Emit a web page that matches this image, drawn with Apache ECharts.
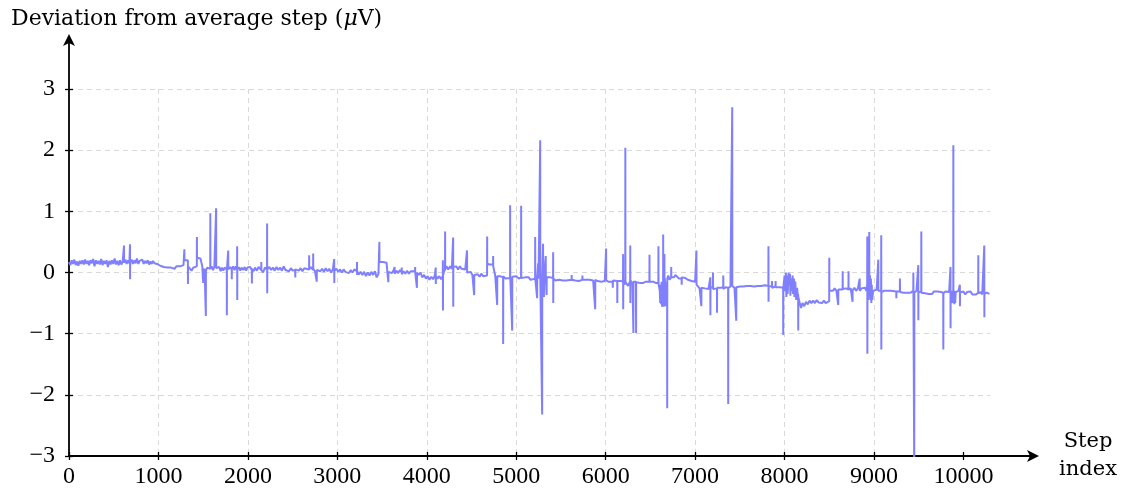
<!DOCTYPE html>
<html>
<head>
<meta charset="utf-8">
<script src="https://cdn.jsdelivr.net/npm/echarts@6/dist/echarts.min.js"></script>
<style>
html,body{margin:0;padding:0;background:#fff;}
#chart{width:1127px;height:490px;}
</style>
</head>
<body>
<div id="chart"></div>
<script>
// ---- data: [step index, deviation (µV)] ----
const seg0to2000 = [[0,0.17],[15,0.12],[30,0.2],[45,0.14],[60,0.21],[75,0.12],[90,0.18],[105,0.11],[120,0.19],[135,0.14],[150,0.2],[165,0.13],[180,0.21],[195,0.14],[210,0.19],[225,0.12],[240,0.2],[255,0.15],[270,0.22],[285,0.1],[300,0.2],[315,0.14],[330,0.19],[345,0.13],[360,0.22],[375,0.12],[390,0.19],[405,0.14],[420,0.2],[435,0.09],[450,0.19],[465,0.13],[480,0.2],[495,0.14],[510,0.23],[525,0.13],[540,0.19],[555,0.12],[570,0.2],[585,0.13],[600,0.18],[614,0.15],[615,0.44],[616,0.16],[630,0.21],[645,0.14],[660,0.2],[675,0.15],[681,0.17],[682,0.46],[683,-0.11],[684,0.17],[700,0.21],[715,0.14],[730,0.2],[745,0.15],[760,0.23],[775,0.14],[790,0.19],[805,0.16],[820,0.21],[835,0.14],[850,0.19],[865,0.15],[880,0.2],[895,0.13],[910,0.18],[925,0.14],[940,0.19],[955,0.15],[970,0.17],[985,0.14],[1000,0.15],[1020,0.11],[1040,0.13],[1060,0.09],[1080,0.12],[1100,0.08],[1120,0.11],[1140,0.08],[1160,0.1],[1180,0.06],[1200,0.1],[1220,0.07],[1240,0.1],[1260,0.08],[1280,0.12],[1289,0.1],[1290,0.38],[1291,0.2],[1310,0.22],[1329,0.2],[1330,-0.19],[1331,0.1],[1350,0.08],[1370,0.03],[1390,0.08],[1410,0.05],[1429,0.1],[1430,0.58],[1431,0.24],[1450,0.22],[1470,0.23],[1490,0.1],[1499,0.08],[1500,-0.17],[1501,0.02],[1515,0.06],[1529,0.03],[1530,-0.71],[1531,0.03],[1545,0.08],[1560,0.05],[1579,0.06],[1580,0.97],[1581,0.06],[1595,0.1],[1610,0.04],[1625,0.09],[1644,0.08],[1645,1.05],[1646,0.07],[1665,0.04],[1680,0.09],[1695,0.02],[1710,0.08],[1725,0.03],[1740,0.08],[1764,0.05],[1765,-0.7],[1766,0.06],[1779,0.05],[1780,0.36],[1781,0.05],[1800,0.09],[1819,0.05],[1820,-0.11],[1821,0.06],[1835,0.1],[1850,0.04],[1865,0.1],[1879,0.05],[1880,0.43],[1881,-0.45],[1882,0.05],[1900,0.09],[1915,0.03],[1930,0.08],[1950,0.04],[1965,0.09],[1980,0.03]];
const seg2000to4000 = [[1995,0.08],[2010,0.05],[2025,0.09],[2044,0.04],[2045,-0.18],[2046,0.06],[2065,0.02],[2080,0.08],[2100,0.03],[2120,0.09],[2149,0.04],[2150,0.17],[2151,0.04],[2170,0.0],[2190,0.08],[2214,0.05],[2215,0.8],[2216,-0.34],[2217,0.05],[2240,0.09],[2260,0.04],[2280,0.08],[2300,0.03],[2320,0.09],[2340,0.04],[2360,0.08],[2380,0.03],[2400,0.1],[2420,0.04],[2440,0.07],[2460,0.02],[2480,0.07],[2500,0.03],[2529,0.04],[2530,-0.08],[2531,0.05],[2550,0.08],[2570,0.03],[2590,0.07],[2610,0.02],[2630,0.07],[2650,0.04],[2684,0.05],[2685,0.28],[2686,0.05],[2705,0.09],[2729,0.04],[2730,0.31],[2731,0.06],[2750,0.02],[2769,0.05],[2770,-0.15],[2771,0.04],[2790,0.07],[2810,0.02],[2830,0.06],[2850,0.01],[2870,0.07],[2890,0.02],[2910,0.06],[2930,0.0],[2950,0.05],[2964,0.03],[2965,0.22],[2966,-0.17],[2967,0.03],[2990,0.06],[3010,0.01],[3030,0.05],[3050,0.0],[3070,0.05],[3090,0.01],[3110,0.04],[3130,-0.01],[3150,0.04],[3170,0.0],[3190,0.05],[3219,0.02],[3220,0.17],[3221,-0.04],[3222,0.02],[3240,-0.03],[3260,0.01],[3280,-0.04],[3300,0.01],[3320,-0.06],[3340,0.0],[3360,-0.05],[3380,0.01],[3400,-0.04],[3420,0.02],[3440,-0.08],[3460,-0.02],[3469,0.0],[3470,0.5],[3471,0.17],[3490,0.2],[3510,0.17],[3530,0.2],[3550,0.16],[3569,0.15],[3570,-0.16],[3571,0.01],[3590,0.04],[3610,-0.01],[3630,0.04],[3639,0.02],[3640,0.09],[3641,-0.02],[3660,0.03],[3680,-0.01],[3700,0.04],[3719,0.0],[3720,0.08],[3721,-0.03],[3740,0.02],[3760,-0.02],[3780,0.03],[3800,-0.02],[3820,0.02],[3840,-0.01],[3869,0.02],[3870,0.09],[3871,0.0],[3889,0.0],[3890,-0.25],[3891,0.0],[3910,-0.04],[3930,0.0],[3950,-0.08],[3970,-0.04],[3990,-0.1]];
const seg4000to6000 = [[4010,-0.06],[4030,-0.12],[4050,-0.07],[4070,-0.11],[4090,-0.05],[4099,-0.06],[4100,0.08],[4101,-0.19],[4102,-0.06],[4120,-0.1],[4140,-0.06],[4160,-0.11],[4179,-0.06],[4180,0.2],[4181,-0.62],[4182,-0.05],[4190,0.0],[4204,0.05],[4205,0.67],[4206,0.05],[4220,0.1],[4240,0.05],[4260,0.1],[4280,0.06],[4294,0.08],[4295,0.57],[4296,-0.56],[4297,0.09],[4310,0.06],[4330,0.1],[4350,0.05],[4370,0.1],[4390,0.06],[4410,0.09],[4430,0.05],[4449,0.06],[4450,0.36],[4451,0.0],[4470,-0.03],[4490,0.01],[4510,-0.04],[4529,-0.03],[4530,-0.37],[4531,-0.04],[4550,-0.07],[4570,-0.03],[4590,-0.07],[4610,-0.02],[4630,-0.06],[4650,-0.03],[4674,-0.05],[4675,0.59],[4676,0.15],[4700,0.13],[4720,0.16],[4741,0.13],[4742,0.27],[4743,0.1],[4765,-0.05],[4786,-0.06],[4787,-0.53],[4788,-0.06],[4800,-0.09],[4820,-0.06],[4853,-0.08],[4854,-1.17],[4855,-0.06],[4880,-0.1],[4900,-0.07],[4931,-0.09],[4932,1.1],[4933,-0.07],[4945,-0.08],[4954,-0.07],[4955,-0.95],[4956,-0.07],[4975,-0.09],[5000,-0.06],[5030,-0.1],[5054,-0.08],[5055,1.09],[5056,-0.09],[5075,-0.11],[5100,-0.08],[5120,-0.11],[5140,-0.08],[5160,-0.12],[5180,-0.09],[5211,-0.1],[5212,0.58],[5213,-0.1],[5225,-0.08],[5233,-0.1],[5234,-0.42],[5235,-0.08],[5245,0.15],[5250,-0.1],[5267,-0.08],[5268,2.16],[5269,-0.08],[5289,-0.1],[5290,-2.32],[5291,-0.1],[5300,0.47],[5301,-0.05],[5310,-0.4],[5311,-0.08],[5329,-0.08],[5330,0.27],[5331,-0.1],[5339,-0.1],[5340,-0.37],[5341,-0.08],[5360,-0.11],[5380,-0.08],[5400,-0.1],[5412,-0.09],[5413,0.33],[5414,-0.5],[5415,-0.1],[5440,-0.13],[5460,-0.1],[5480,-0.12],[5500,-0.1],[5520,-0.13],[5540,-0.11],[5560,-0.13],[5580,-0.11],[5619,-0.12],[5620,-0.04],[5621,-0.12],[5640,-0.11],[5660,-0.13],[5680,-0.11],[5700,-0.14],[5739,-0.12],[5740,-0.05],[5741,-0.12],[5760,-0.14],[5780,-0.12],[5800,-0.13],[5820,-0.12],[5840,-0.14],[5860,-0.13],[5882,-0.14],[5883,-0.6],[5884,-0.12],[5910,-0.14],[5930,-0.12],[5950,-0.15],[5970,-0.12],[5990,-0.14]];
const seg6000to8000 = [[6004,-0.13],[6005,0.39],[6006,-0.13],[6030,-0.15],[6050,-0.13],[6079,-0.15],[6080,-0.25],[6081,-0.13],[6100,-0.16],[6129,-0.14],[6130,-0.5],[6131,-0.14],[6150,-0.16],[6170,-0.14],[6194,-0.15],[6195,0.3],[6196,-0.6],[6197,-0.12],[6210,-0.2],[6219,-0.14],[6220,2.04],[6221,-0.15],[6240,-0.12],[6250,-0.22],[6274,-0.14],[6275,0.44],[6276,-0.5],[6277,-0.13],[6300,-0.18],[6309,-0.15],[6310,-0.99],[6311,-0.15],[6339,-0.15],[6340,-0.99],[6341,-0.16],[6360,-0.14],[6380,-0.17],[6400,-0.14],[6420,-0.17],[6450,-0.15],[6489,-0.15],[6490,0.29],[6491,-0.15],[6510,-0.17],[6530,-0.15],[6560,-0.17],[6589,-0.17],[6590,0.43],[6591,-0.18],[6605,-0.3],[6610,-0.5],[6615,-0.2],[6620,-0.52],[6625,-0.15],[6630,-0.56],[6635,-0.2],[6640,-0.5],[6642,-0.25],[6643,0.62],[6644,-0.3],[6648,-0.56],[6652,-0.1],[6656,-0.5],[6657,0.3],[6658,-0.4],[6662,-0.1],[6667,-0.55],[6672,-0.15],[6677,-0.5],[6681,-0.2],[6687,-0.3],[6688,-2.22],[6689,-0.1],[6700,-0.05],[6715,-0.12],[6732,-0.08],[6733,0.09],[6734,-0.08],[6750,-0.05],[6765,-0.08],[6780,-0.04],[6800,-0.07],[6820,-0.1],[6849,-0.1],[6850,-0.2],[6851,-0.08],[6870,-0.1],[6890,-0.09],[6920,-0.12],[6940,-0.12],[6960,-0.14],[6980,-0.13],[7000,-0.15],[7014,-0.16],[7015,0.36],[7016,-0.2],[7030,-0.22],[7050,-0.26],[7069,-0.25],[7070,-0.55],[7071,-0.25],[7090,-0.24],[7110,-0.26],[7130,-0.23],[7150,-0.27],[7169,-0.25],[7170,-0.08],[7171,-0.7],[7172,-0.25],[7199,-0.24],[7200,0.0],[7201,-0.27],[7220,-0.24],[7244,-0.26],[7245,-0.66],[7246,-0.25],[7265,-0.22],[7290,-0.25],[7314,-0.24],[7315,-0.05],[7316,-0.27],[7340,-0.24],[7369,-0.25],[7370,-2.15],[7371,-0.25],[7395,-0.23],[7414,-0.24],[7415,2.7],[7416,-0.22],[7440,-0.25],[7459,-0.24],[7460,-0.79],[7461,-0.24],[7480,-0.26],[7500,-0.23],[7520,-0.26],[7540,-0.23],[7560,-0.25],[7580,-0.22],[7600,-0.25],[7620,-0.22],[7640,-0.25],[7660,-0.23],[7680,-0.25],[7700,-0.22],[7720,-0.24],[7740,-0.22],[7760,-0.25],[7780,-0.21],[7800,-0.24],[7819,-0.22],[7820,0.43],[7821,-0.48],[7822,-0.22],[7840,-0.25],[7859,-0.23],[7860,-0.14],[7861,-0.25],[7880,-0.22],[7899,-0.23],[7900,-0.14],[7901,-0.24],[7920,-0.21],[7950,-0.24],[7970,-0.21],[7984,-0.25],[7985,-1.02],[7986,-0.25]];
const seg8000to10300 = [[8000,-0.05],[8005,-0.3],[8015,0.0],[8020,-0.4],[8030,-0.05],[8035,-0.35],[8045,0.0],[8050,-0.2],[8060,-0.02],[8065,-0.38],[8075,-0.1],[8080,-0.3],[8090,-0.05],[8095,-0.35],[8105,-0.1],[8110,-0.4],[8120,-0.15],[8130,-0.45],[8140,-0.25],[8150,-0.4],[8152,-0.35],[8153,-0.95],[8154,-0.4],[8170,-0.5],[8185,-0.58],[8200,-0.5],[8220,-0.55],[8240,-0.48],[8260,-0.52],[8280,-0.46],[8300,-0.5],[8320,-0.46],[8340,-0.5],[8360,-0.45],[8380,-0.49],[8400,-0.46],[8420,-0.5],[8440,-0.46],[8460,-0.5],[8480,-0.48],[8499,-0.47],[8500,0.24],[8501,-0.3],[8520,-0.27],[8540,-0.3],[8560,-0.26],[8580,-0.3],[8599,-0.28],[8600,-0.53],[8601,-0.28],[8620,-0.26],[8649,-0.28],[8650,0.02],[8651,-0.27],[8670,-0.3],[8690,-0.26],[8714,-0.28],[8715,0.02],[8716,-0.28],[8740,-0.26],[8759,-0.29],[8760,-0.48],[8761,-0.29],[8780,-0.25],[8800,-0.3],[8820,-0.26],[8839,-0.28],[8840,-0.1],[8841,-0.3],[8860,-0.26],[8880,-0.29],[8900,-0.25],[8915,-0.3],[8924,-0.2],[8925,0.59],[8926,-1.33],[8927,-0.2],[8935,-0.45],[8942,-0.15],[8946,-0.3],[8947,0.66],[8948,-0.3],[8955,-0.05],[8960,-0.45],[8965,-0.1],[8970,-0.5],[8975,-0.2],[8980,-0.45],[8990,-0.3],[9010,-0.32],[9030,-0.28],[9047,-0.3],[9048,0.21],[9049,-0.3],[9065,-0.31],[9080,-0.3],[9081,0.61],[9082,-1.26],[9083,-0.32],[9110,-0.3],[9130,-0.33],[9150,-0.3],[9170,-0.33],[9190,-0.3],[9210,-0.32],[9249,-0.31],[9250,-0.42],[9251,-0.31],[9270,-0.33],[9289,-0.31],[9290,-0.1],[9291,-0.32],[9310,-0.3],[9330,-0.33],[9350,-0.3],[9370,-0.33],[9390,-0.31],[9410,-0.33],[9439,-0.3],[9440,0.0],[9441,-0.3],[9449,-0.31],[9450,-3.4],[9451,-0.33],[9475,-0.3],[9494,-0.31],[9495,0.12],[9496,-0.78],[9497,-0.32],[9515,-0.3],[9528,-0.32],[9529,0.67],[9530,-0.33],[9550,-0.3],[9570,-0.34],[9590,-0.31],[9610,-0.35],[9630,-0.32],[9650,-0.35],[9670,-0.31],[9690,-0.34],[9710,-0.31],[9730,-0.34],[9750,-0.32],[9774,-0.33],[9775,-1.26],[9776,-0.34],[9800,-0.31],[9820,-0.34],[9840,-0.32],[9854,-0.33],[9855,0.09],[9856,-0.91],[9857,-0.3],[9865,-0.5],[9875,-0.3],[9886,-0.4],[9887,2.08],[9888,-0.5],[9893,-0.3],[9898,-0.52],[9903,-0.3],[9908,-0.5],[9913,-0.32],[9930,-0.35],[9945,-0.3],[9959,-0.3],[9960,-0.2],[9961,-0.55],[9962,-0.33],[9980,-0.35],[10000,-0.31],[10020,-0.36],[10040,-0.32],[10060,-0.35],[10080,-0.31],[10100,-0.36],[10120,-0.33],[10140,-0.36],[10165,-0.33],[10166,0.28],[10167,-0.34],[10190,-0.32],[10210,-0.36],[10232,-0.34],[10233,0.44],[10234,-0.73],[10235,-0.35],[10260,-0.33],[10290,-0.35]];

const xTicks = [0,1000,2000,3000,4000,5000,6000,7000,8000,9000,10000];
const yTicks = [-3,-2,-1,0,1,2,3];
const yTitle = 'Deviation from average step (';
const yTitleMu = 'μ';
const yTitleEnd = 'V)';
const xTitle = 'Step\nindex';

const seriesData = [].concat(seg0to2000, seg2000to4000, seg4000to6000, seg6000to8000, seg8000to10300);

const chart = echarts.init(document.getElementById('chart'), null, {renderer:'canvas'});
const tickFont = {fontFamily:'Liberation Serif', fontSize:24, color:'#000'};
const gridLine = {color:'#d9d9d9', type:[5,4], width:1};
const tickLine = {color:'#000', width:1.3};
const fmtY = v => (v < 0 ? '\u2212' + Math.abs(v) : String(v));

chart.setOption({
  animation:false,
  backgroundColor:'#fff',
  grid:[
    {left:69, right:136.7, top:89, bottom:34},
    {left:69, right:92, top:38, bottom:34}
  ],
  title:{
    text:'{a|' + yTitle + '}{m|' + yTitleMu + '}{a|' + yTitleEnd + '}',
    left:6, top:3,
    textStyle:{fontWeight:'normal', rich:{
      a:{fontFamily:'DejaVu Serif', fontWeight:'normal', fontSize:22, color:'#000'},
      m:{fontFamily:'DejaVu Serif', fontWeight:'normal', fontStyle:'italic', fontSize:22, color:'#000'}
    }}
  },
  graphic:[{
    type:'text', x:1088, y:428,
    style:{text:xTitle, align:'center', fontFamily:'DejaVu Serif', fontSize:21, lineHeight:28, fill:'#000'}
  }],
  xAxis:[
    {gridIndex:0, type:'value', min:0, max:10300, interval:1000,
     axisLine:{show:false, onZero:false},
     axisTick:{show:true, inside:true, length:4, customValues:xTicks, lineStyle:tickLine},
     axisLabel:{show:false},
     splitLine:{show:true, showMinLine:false, showMaxLine:false, lineStyle:gridLine}},
    {gridIndex:1, type:'value', min:0, max:10800, interval:1000,
     axisLine:{show:true, onZero:false, symbol:['none','arrow'], symbolSize:[9,12], symbolOffset:[0,4], lineStyle:{color:'#000', width:1.8}},
     axisTick:{show:true, length:4, customValues:xTicks, lineStyle:tickLine},
     axisLabel:Object.assign({customValues:xTicks, margin:9, formatter:v => (v <= 10000 ? String(v) : '')}, tickFont),
     splitLine:{show:false}}
  ],
  yAxis:[
    {gridIndex:0, type:'value', min:-3, max:3, interval:1,
     axisLine:{show:false, onZero:false},
     axisTick:{show:true, inside:true, length:4, customValues:yTicks, lineStyle:tickLine},
     axisLabel:{show:false},
     splitLine:{show:true, showMinLine:false, showMaxLine:true, lineStyle:gridLine}},
    {gridIndex:1, type:'value', min:-3, max:3.833, interval:1,
     axisLine:{show:true, onZero:false, symbol:['none','arrow'], symbolSize:[9,12], symbolOffset:[0,4], lineStyle:{color:'#000', width:1.8}},
     axisTick:{show:true, length:4, customValues:yTicks, lineStyle:tickLine},
     axisLabel:Object.assign({customValues:yTicks, margin:14, formatter:v => (v <= 3 ? fmtY(v) : '')}, tickFont),
     splitLine:{show:false}}
  ],
  series:[{
    type:'line', xAxisIndex:1, yAxisIndex:1,
    data:seriesData, symbol:'none', clip:true,
    lineStyle:{color:'#8080ff', width:2},
    z:3
  }]
});
</script>
</body>
</html>
